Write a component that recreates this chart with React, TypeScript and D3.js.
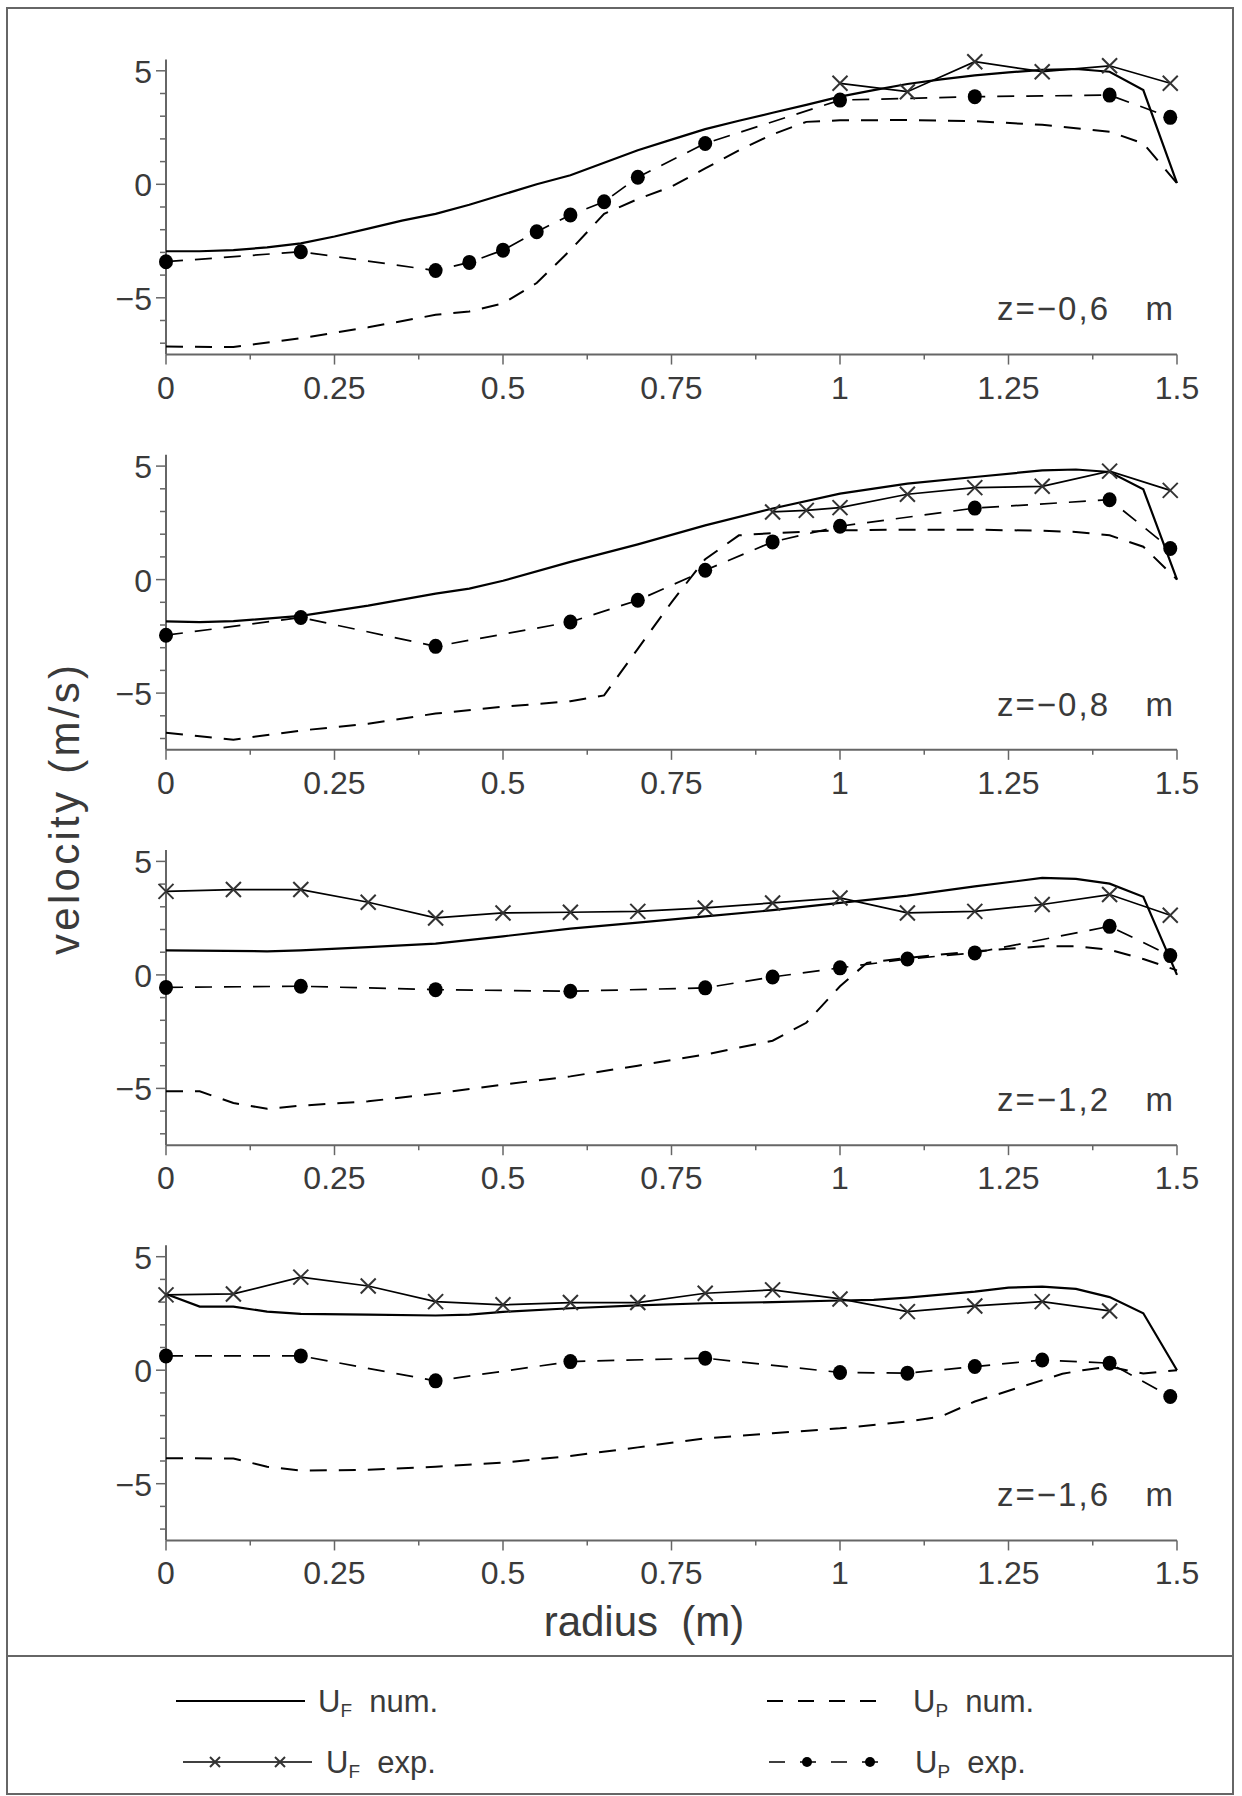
import * as d3 from 'd3'

type Pt = [number, number]

// tick labels
const xTickValues = [0, 0.25, 0.5, 0.75, 1, 1.25, 1.5]
const xTickLabels = ['0', '0.25', '0.5', '0.75', '1', '1.25', '1.5']
const yTickValues = [-5, 0, 5]
const yTickLabels = ['−5', '0', '5']
const panelLabels = ['z=−0,6', 'z=−0,8', 'z=−1,2', 'z=−1,6']

// z = -0.6 m
const p1UFnum: Pt[] = [[0, -2.95], [0.05, -2.95], [0.1, -2.9], [0.15, -2.78], [0.2, -2.6], [0.25, -2.3], [0.3, -1.95], [0.35, -1.6], [0.4, -1.3], [0.45, -0.9], [0.5, -0.45], [0.55, 0], [0.6, 0.4], [0.65, 0.95], [0.7, 1.5], [0.75, 1.97], [0.8, 2.43], [0.85, 2.8], [0.9, 3.15], [0.95, 3.5], [1.0, 3.86], [1.05, 4.15], [1.1, 4.42], [1.15, 4.62], [1.2, 4.8], [1.25, 4.93], [1.3, 5.04], [1.35, 5.08], [1.4, 4.96], [1.45, 4.15], [1.5, 0.05]]
const p1UFexp: Pt[] = [[1.0, 4.45], [1.1, 4.08], [1.2, 5.4], [1.3, 4.96], [1.4, 5.22], [1.49, 4.45]]
const p1UPnum: Pt[] = [[0, -7.15], [0.1, -7.17], [0.2, -6.78], [0.3, -6.3], [0.4, -5.75], [0.45, -5.6], [0.5, -5.25], [0.55, -4.35], [0.6, -2.9], [0.65, -1.3], [0.7, -0.65], [0.75, -0.1], [0.8, 0.7], [0.85, 1.5], [0.9, 2.2], [0.95, 2.75], [1.0, 2.82], [1.1, 2.83], [1.2, 2.78], [1.3, 2.62], [1.4, 2.32], [1.45, 1.8], [1.5, 0.05]]
const p1UPexp: Pt[] = [[0, -3.41], [0.2, -2.97], [0.4, -3.8], [0.45, -3.44], [0.5, -2.9], [0.55, -2.09], [0.6, -1.35], [0.65, -0.77], [0.7, 0.31], [0.8, 1.8], [1.0, 3.71], [1.2, 3.86], [1.4, 3.93], [1.49, 2.95]]

// z = -0.8 m
const p2UFnum: Pt[] = [[0, -1.84], [0.05, -1.87], [0.1, -1.83], [0.2, -1.6], [0.3, -1.15], [0.4, -0.62], [0.45, -0.4], [0.5, -0.05], [0.6, 0.78], [0.7, 1.55], [0.8, 2.39], [0.9, 3.13], [1.0, 3.79], [1.1, 4.23], [1.2, 4.52], [1.3, 4.81], [1.35, 4.85], [1.4, 4.74], [1.45, 3.98], [1.5, 0]]
const p2UFexp: Pt[] = [[0.9, 2.98], [0.95, 3.05], [1.0, 3.17], [1.1, 3.76], [1.2, 4.05], [1.3, 4.11], [1.4, 4.78], [1.49, 3.93]]
const p2UPnum: Pt[] = [[0, -6.75], [0.1, -7.05], [0.2, -6.65], [0.3, -6.35], [0.4, -5.9], [0.5, -5.6], [0.6, -5.36], [0.65, -5.1], [0.7, -3.05], [0.75, -1.0], [0.8, 0.9], [0.85, 1.95], [0.9, 2.05], [1.0, 2.17], [1.1, 2.2], [1.2, 2.2], [1.3, 2.15], [1.35, 2.1], [1.4, 1.95], [1.45, 1.45], [1.5, 0]]
const p2UPexp: Pt[] = [[0, -2.45], [0.2, -1.67], [0.4, -2.94], [0.6, -1.87], [0.7, -0.91], [0.8, 0.41], [0.9, 1.66], [1.0, 2.35], [1.2, 3.15], [1.4, 3.52], [1.49, 1.37]]

// z = -1.2 m
const p3UFnum: Pt[] = [[0, 1.08], [0.15, 1.04], [0.2, 1.08], [0.3, 1.22], [0.4, 1.38], [0.5, 1.7], [0.6, 2.04], [0.7, 2.3], [0.8, 2.58], [0.9, 2.85], [1.0, 3.17], [1.1, 3.49], [1.2, 3.9], [1.3, 4.27], [1.35, 4.23], [1.4, 4.02], [1.45, 3.44], [1.5, 0]]
const p3UFexp: Pt[] = [[0, 3.68], [0.1, 3.76], [0.2, 3.76], [0.3, 3.2], [0.4, 2.51], [0.5, 2.73], [0.6, 2.76], [0.7, 2.8], [0.8, 2.95], [0.9, 3.17], [1.0, 3.39], [1.1, 2.73], [1.2, 2.8], [1.3, 3.1], [1.4, 3.54], [1.49, 2.63]]
const p3UPnum: Pt[] = [[0, -5.13], [0.05, -5.13], [0.1, -5.64], [0.15, -5.9], [0.2, -5.76], [0.3, -5.57], [0.4, -5.23], [0.5, -4.83], [0.6, -4.47], [0.7, -4.0], [0.8, -3.51], [0.9, -2.9], [0.95, -2.11], [1.0, -0.5], [1.04, 0.53], [1.1, 0.75], [1.2, 1.04], [1.3, 1.26], [1.35, 1.26], [1.4, 1.11], [1.45, 0.7], [1.5, 0.2]]
const p3UPexp: Pt[] = [[0, -0.55], [0.2, -0.5], [0.4, -0.65], [0.6, -0.72], [0.8, -0.57], [0.9, -0.09], [1.0, 0.31], [1.1, 0.7], [1.2, 0.97], [1.4, 2.14], [1.49, 0.85]]

// z = -1.6 m
const p4UFnum: Pt[] = [[0, 3.36], [0.05, 2.8], [0.1, 2.8], [0.15, 2.58], [0.2, 2.48], [0.3, 2.45], [0.4, 2.41], [0.45, 2.45], [0.5, 2.57], [0.6, 2.73], [0.7, 2.86], [0.8, 2.95], [0.9, 3.0], [1.0, 3.07], [1.05, 3.1], [1.1, 3.2], [1.2, 3.46], [1.25, 3.64], [1.3, 3.68], [1.35, 3.58], [1.4, 3.22], [1.45, 2.51], [1.5, 0]]
const p4UFexp: Pt[] = [[0, 3.32], [0.1, 3.36], [0.2, 4.1], [0.3, 3.71], [0.4, 3.02], [0.5, 2.88], [0.6, 2.98], [0.7, 2.98], [0.8, 3.39], [0.9, 3.54], [1.0, 3.14], [1.1, 2.58], [1.2, 2.83], [1.3, 3.02], [1.4, 2.61]]
const p4UPnum: Pt[] = [[0, -3.88], [0.1, -3.89], [0.15, -4.25], [0.2, -4.42], [0.3, -4.39], [0.4, -4.25], [0.5, -4.07], [0.6, -3.78], [0.7, -3.4], [0.8, -3.0], [0.9, -2.78], [1.0, -2.56], [1.1, -2.26], [1.15, -2.04], [1.2, -1.38], [1.27, -0.72], [1.33, -0.16], [1.36, 0], [1.4, 0.15], [1.45, -0.15], [1.5, 0]]
const p4UPexp: Pt[] = [[0, 0.63], [0.2, 0.63], [0.4, -0.47], [0.6, 0.38], [0.8, 0.53], [1.0, -0.1], [1.1, -0.13], [1.2, 0.16], [1.3, 0.45], [1.4, 0.31], [1.49, -1.16]]

const ufNum = [p1UFnum, p2UFnum, p3UFnum, p4UFnum]
const ufExp = [p1UFexp, p2UFexp, p3UFexp, p4UFexp]
const upNum = [p1UPnum, p2UPnum, p3UPnum, p4UPnum]
const upExp = [p1UPexp, p2UPexp, p3UPexp, p4UPexp]

const W = 1242
const H = 1796
const X0 = 166
const X1 = 1177
const ZERO0 = 184.3
const STEP = 395.3
const UNIT = 22.7
const FONT = '"Liberation Sans", Arial, sans-serif'
const TXT = '#3a3a3a'
const AX = '#666'
const DASH = '17,12'

const x = d3.scaleLinear().domain([0, 1.5]).range([X0, X1])

function Cross({ cx, cy, s = 7.5, w = 2 }: { cx: number; cy: number; s?: number; w?: number }) {
  return (
    <g stroke="#333" strokeWidth={w}>
      <line x1={cx - s} y1={cy - s} x2={cx + s} y2={cy + s} />
      <line x1={cx - s} y1={cy + s} x2={cx + s} y2={cy - s} />
    </g>
  )
}

function Panel({ i }: { i: number }) {
  const zero = ZERO0 + STEP * i
  const y = d3.scaleLinear().domain([-7.5, 5.5]).range([zero + 7.5 * UNIT, zero - 5.5 * UNIT])
  const [yb, yt] = y.range()
  const line = d3.line<Pt>().x((d) => x(d[0])).y((d) => y(d[1]))
  const minorX = d3.range(0, 1.5001, 0.125)
  const minorY = d3.range(-7, 5.001, 1)
  return (
    <g>
      {/* axes */}
      <line x1={X0} y1={yt} x2={X0} y2={yb} stroke={AX} strokeWidth={2} />
      <line x1={X0} y1={yb} x2={X1} y2={yb} stroke={AX} strokeWidth={2} />
      {minorX.map((v) => {
        const major = Math.abs((v / 0.25) - Math.round(v / 0.25)) < 1e-6
        return <line key={'mx' + v} x1={x(v)} x2={x(v)} y1={yb} y2={yb + (major ? 10 : 5)} stroke={AX} strokeWidth={1.5} />
      })}
      {minorY.map((v) => {
        const major = v % 5 === 0
        return <line key={'my' + v} x1={X0} x2={X0 - (major ? 10 : 6)} y1={y(v)} y2={y(v)} stroke={AX} strokeWidth={1.5} />
      })}
      {xTickValues.map((v, k) => (
        <text key={'xl' + v} x={x(v)} y={yb + 44} textAnchor="middle" fontSize={32} fill={TXT} fontFamily={FONT}>
          {xTickLabels[k]}
        </text>
      ))}
      {yTickValues.map((v, k) => (
        <text key={'yl' + v} x={152} y={y(v) + 12} textAnchor="end" fontSize={32} fill={TXT} fontFamily={FONT}>
          {yTickLabels[k]}
        </text>
      ))}
      <text x={1110} y={zero + 136} textAnchor="end" fontSize={33} fill={TXT} fontFamily={FONT} letterSpacing={2}>
        {panelLabels[i]}
      </text>
      <text x={1173} y={zero + 136} textAnchor="end" fontSize={33} fill={TXT} fontFamily={FONT}>
        m
      </text>

      {/* series */}
      <path d={line(upNum[i]) || ''} fill="none" stroke="#000" strokeWidth={2} strokeDasharray={DASH} />
      <path d={line(ufNum[i]) || ''} fill="none" stroke="#000" strokeWidth={2.2} />
      <path d={line(upExp[i]) || ''} fill="none" stroke="#000" strokeWidth={1.7} strokeDasharray={DASH} />
      <path d={line(ufExp[i]) || ''} fill="none" stroke="#000" strokeWidth={1.7} />
      {upExp[i].map((d, k) => (
        <ellipse key={'c' + k} cx={x(d[0])} cy={y(d[1])} rx={7} ry={7.5} fill="#000" />
      ))}
      {ufExp[i].map((d, k) => (
        <Cross key={'x' + k} cx={x(d[0])} cy={y(d[1])} />
      ))}
    </g>
  )
}

function LegendText({ x0, y0, sub, rest }: { x0: number; y0: number; sub: string; rest: string }) {
  return (
    <text x={x0} y={y0} fontSize={31} fill={TXT} fontFamily={FONT} style={{ whiteSpace: 'pre' }}>
      <tspan>U</tspan>
      <tspan fontSize={19} dy={5}>{sub}</tspan>
      <tspan dy={-5}>{'  ' + rest}</tspan>
    </text>
  )
}

export default function App() {
  const r1 = 1701
  const r2 = 1762
  return (
    <div style={{ position: 'absolute', left: 0, top: 0 }}>
      <svg width={W} height={H} style={{ display: 'block', background: '#fff' }}>
        <rect x={7} y={8} width={1226} height={1786} fill="#fff" stroke={AX} strokeWidth={2} />
        <line x1={7} x2={1233} y1={1656} y2={1656} stroke={AX} strokeWidth={2} />
        {[0, 1, 2, 3].map((i) => (
          <Panel key={i} i={i} />
        ))}
        <text
          transform="translate(79,810) rotate(-90)"
          textAnchor="middle"
          fontSize={42}
          fill={TXT}
          fontFamily={FONT}
          textLength={290}
          lengthAdjust="spacing"
        >
          velocity (m/s)
        </text>
        <text x={644} y={1636} textAnchor="middle" fontSize={42} fill={TXT} fontFamily={FONT} style={{ whiteSpace: 'pre' }}>
          radius  (m)
        </text>

        {/* legend */}
        <line x1={176} x2={305} y1={r1} y2={r1} stroke="#000" strokeWidth={2.2} />
        <LegendText x0={318} y0={r1 + 11} sub="F" rest="num." />
        <line x1={767} x2={881} y1={r1} y2={r1} stroke="#000" strokeWidth={2} strokeDasharray="16,15" />
        <LegendText x0={913} y0={r1 + 11} sub="P" rest="num." />

        <line x1={183} x2={312} y1={r2} y2={r2} stroke="#000" strokeWidth={1.7} />
        <Cross cx={215} cy={r2} s={5} w={2} />
        <Cross cx={280} cy={r2} s={5} w={2} />
        <LegendText x0={326} y0={r2 + 11} sub="F" rest="exp." />
        <line x1={769} x2={885} y1={r2} y2={r2} stroke="#000" strokeWidth={1.7} strokeDasharray="16,15" />
        <circle cx={807} cy={r2} r={5} fill="#000" />
        <circle cx={870} cy={r2} r={5} fill="#000" />
        <LegendText x0={915} y0={r2 + 11} sub="P" rest="exp." />
      </svg>
    </div>
  )
}
